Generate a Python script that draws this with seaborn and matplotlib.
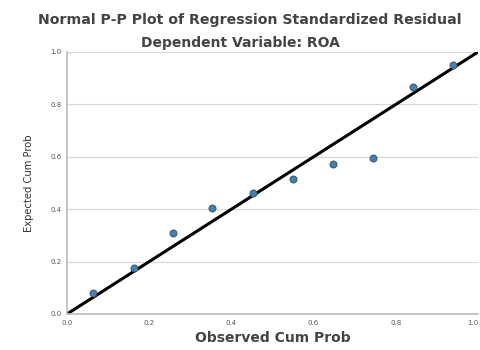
import matplotlib
matplotlib.use('AGG')

import matplotlib.pyplot as plt
import seaborn as sns
import pandas as pd

observed = [0.064, 0.163, 0.257, 0.354, 0.452, 0.549, 0.646, 0.744, 0.843, 0.940]
expected = [0.079, 0.177, 0.310, 0.403, 0.463, 0.514, 0.573, 0.594, 0.865, 0.950]
ticks = [0.0, 0.2, 0.4, 0.6, 0.8, 1.0]
tick_labels = ['0.0', '0.2', '0.4', '0.6', '0.8', '1.0']

df = pd.DataFrame({'Observed Cum Prob': observed, 'Expected Cum Prob': expected})

sns.set_style('white')
plt.rcParams['font.family'] = ['DejaVu Sans']

fig = plt.figure(figsize=(4.81, 3.5), dpi=100)
ax = fig.add_axes([67 / 481, 36 / 350, 411 / 481, 262 / 350])

for t in ticks[1:]:
    ax.axhline(t, color='#d9d9d9', lw=0.9, zorder=0)

sns.lineplot(x=[0, 1], y=[0, 1], color='black', lw=2.2, ax=ax, zorder=2)
sns.scatterplot(data=df, x='Observed Cum Prob', y='Expected Cum Prob', ax=ax,
                color='#4a7fa8', edgecolor='#2f4f6f', s=26, linewidth=0.6, zorder=3)

ax.set_xlim(0, 1)
ax.set_ylim(0, 1)
ax.set_xticks(ticks)
ax.set_xticklabels(tick_labels)
ax.set_yticks(ticks)
ax.set_yticklabels(tick_labels)
ax.tick_params(labelsize=5, colors='#555555', length=2, pad=2)
ax.get_xticklabels()[-1].set_ha('right')

for side in ['top', 'right']:
    ax.spines[side].set_visible(False)
for side in ['left', 'bottom']:
    ax.spines[side].set_color('#bbbbbb')
    ax.spines[side].set_linewidth(1.2)

ax.set_xlabel('Observed Cum Prob', fontsize=10, fontweight='bold', color='#444444', labelpad=4)
ax.set_ylabel('Expected Cum Prob', fontsize=7.2, color='#333333', labelpad=12)

fig.text(250 / 481, 1 - 20 / 350, 'Normal P-P Plot of Regression Standardized Residual',
         ha='center', va='center', fontsize=10.2, fontweight='bold', color='#444444')
fig.text(240 / 481, 1 - 43 / 350, 'Dependent Variable: ROA',
         ha='center', va='center', fontsize=10, fontweight='bold', color='#444444')

fig.savefig('out.png', dpi=100)
